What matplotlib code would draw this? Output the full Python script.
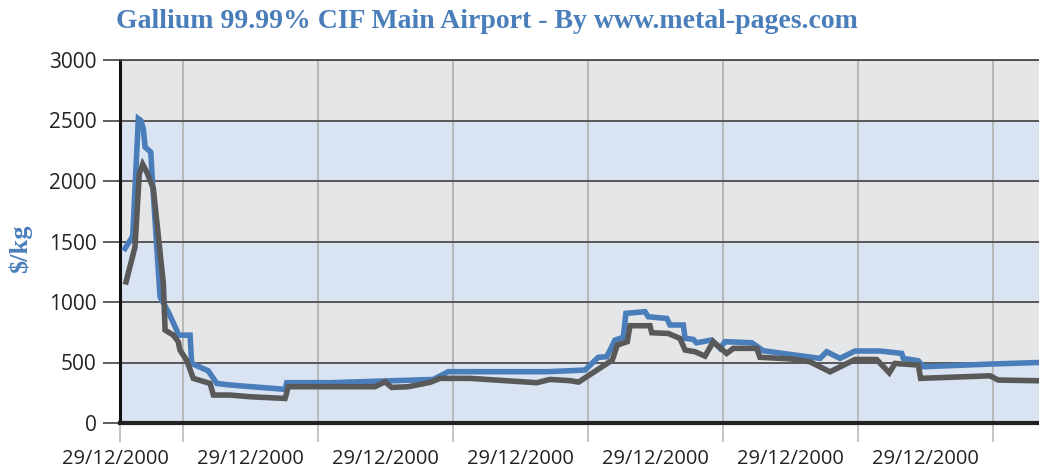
import matplotlib
matplotlib.use("Agg")
import matplotlib.pyplot as plt

# x in tick-period units (vertical gridlines sit at 1..7)
blue_x = [0.570, 0.627, 0.669, 0.687, 0.706, 0.719, 0.761, 0.773, 0.830, 0.891,
          0.953, 0.965, 1.052, 1.064, 1.187, 1.250, 1.348, 1.756, 1.768, 2.089,
          2.854, 2.965, 3.694, 3.867, 3.978, 4.076, 4.139, 4.200, 4.261, 4.281,
          4.422, 4.447, 4.584, 4.607, 4.706, 4.719, 4.780, 4.805, 4.916, 4.978,
          5.015, 5.213, 5.299, 5.496, 5.719, 5.768, 5.867, 5.978, 6.163, 6.324,
          6.336, 6.447, 6.484, 6.978, 7.341]
blue_y = [1442, 1543, 2515, 2500, 2431, 2280, 2238, 2004, 1041, 918,
          767, 726, 726, 492, 431, 327, 314, 278, 333, 333,
          360, 424, 424, 432, 438, 543, 548, 685, 708, 906,
          920, 878, 864, 810, 810, 700, 691, 663, 686, 617,
          672, 663, 597, 567, 534, 589, 534, 595, 595, 575,
          534, 514, 465, 487, 500]

gray_x = [0.578, 0.644, 0.676, 0.701, 0.731, 0.780, 0.854, 0.867, 0.928, 0.965,
          0.977, 1.026, 1.076, 1.200, 1.225, 1.348, 1.496, 1.756, 1.780, 2.422,
          2.496, 2.546, 2.669, 2.830, 2.904, 3.126, 3.620, 3.719, 3.867, 3.930,
          4.180, 4.217, 4.291, 4.311, 4.459, 4.472, 4.595, 4.681, 4.719, 4.793,
          4.867, 4.928, 5.027, 5.077, 5.250, 5.274, 5.496, 5.644, 5.793, 5.978,
          6.138, 6.232, 6.274, 6.447, 6.464, 6.978, 7.039, 7.341]
gray_y = [1166, 1455, 2061, 2138, 2075, 1937, 1153, 768, 726, 671,
          603, 520, 369, 327, 231, 231, 217, 203, 300, 300,
          341, 294, 300, 336, 369, 369, 333, 360, 350, 338,
          520, 644, 672, 804, 804, 746, 740, 699, 603, 589,
          553, 672, 575, 617, 617, 543, 530, 506, 423, 525,
          525, 415, 492, 479, 369, 390, 355, 349]

y_ticks = [0, 500, 1000, 1500, 2000, 2500, 3000]
x_grid = [1, 2, 3, 4, 5, 6, 7]
x_label_pos = [0.5, 1.5, 2.5, 3.5, 4.5, 5.5, 6.5]
x_labels = ["29/12/2000"] * 7

TITLE = "Gallium 99.99% CIF Main Airport - By www.metal-pages.com"
BLUE = "#4a7ebb"
GRAY = "#595959"
X_MIN, X_MAX = 0.533, 7.341

plt.rcParams['font.family'] = ['Open Sans', 'DejaVu Sans']

fig = plt.figure(figsize=(10.39, 4.71), dpi=100)
ax = fig.add_axes([120 / 1039, 48 / 471, 919 / 1039, 363 / 471])

# alternating background bands
for i in range(len(y_ticks) - 1):
    ax.axhspan(y_ticks[i], y_ticks[i + 1], color="#d9e3f1" if i % 2 == 0 else "#e5e6e7",
               lw=0, zorder=0.1)

ax.set_axisbelow(True)
ax.yaxis.grid(True, color="#4d4d4d", lw=1.3)
ax.xaxis.grid(True, color="#b4b4b4", lw=1.3)

ax.plot(blue_x, blue_y, color=BLUE, lw=4, solid_joinstyle="miter", zorder=3)
ax.plot(gray_x, gray_y, color=GRAY, lw=4, solid_joinstyle="miter", zorder=3)

ax.set_xlim(X_MIN, X_MAX)
ax.set_ylim(0, 3000)
ax.set_yticks(y_ticks)
ax.set_xticks([X_MIN] + x_grid)
ax.set_xticklabels([])
ax.tick_params(axis="x", length=14, width=1.1, color="#b4b4b4", direction="out")
ax.xaxis.get_ticklines()[0].set_color("#222222")
ax.tick_params(axis="y", length=12, width=1.1, color="#333333", labelsize=15,
               labelcolor="#222222", pad=5)

for xp, lab in zip(x_label_pos, x_labels):
    ax.annotate(lab, xy=(xp, 0), xycoords=("data", "axes fraction"), xytext=(0, -26),
                textcoords="offset pixels", ha="center", va="top", fontsize=14.5,
                color="#222222", annotation_clip=False)

ax.spines["right"].set_visible(False)
ax.spines["top"].set_color("#4d4d4d")
ax.spines["top"].set_linewidth(1.3)
ax.spines["left"].set_linewidth(2.2)
ax.spines["left"].set_color("#111111")
ax.spines["bottom"].set_linewidth(3)
ax.spines["bottom"].set_color("#222222")

fig.text(487 / 1039, 1 - 21 / 471, TITLE, ha="center", va="center", fontsize=20,
         fontweight="bold", color=BLUE, family="Liberation Serif")
fig.text(20 / 1039, 1 - 249 / 471, r"\$/kg", ha="center", va="center", rotation=90,
         fontsize=19, fontweight="bold", color=BLUE, family="Liberation Serif")

fig.savefig("out.png", dpi=100)
